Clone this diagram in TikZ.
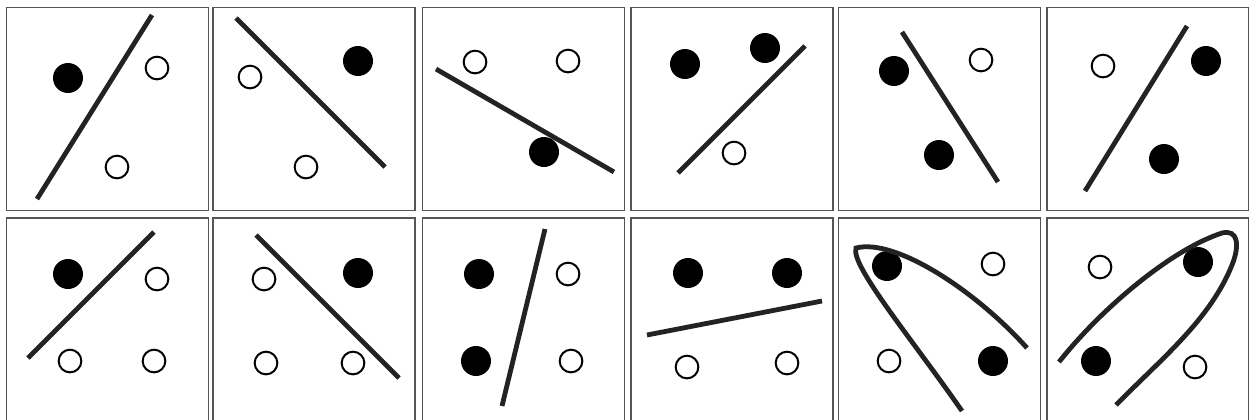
\documentclass[tikz,border=0pt]{standalone}
\usetikzlibrary{positioning}
\definecolor{Ink}{HTML}{232323}
\definecolor{Frame}{HTML}{555555}
\tikzset{
  frame/.style={draw=Frame,line width=1.1pt},
  sep/.style={draw=Ink,line width=3.6pt},
  full/.style={circle,fill=black,minimum size=22.5pt,inner sep=0pt},
  hollow/.style={circle,draw=black,fill=white,line width=1.5pt,minimum size=17pt,inner sep=0pt}
}
\begin{document}
\begin{tikzpicture}[x=0.75pt,y=-0.75pt]
  \useasboundingbox (0,0) rectangle (1249,419);
  % frames
  \foreach \fx in {6.5,213,422.5,631,838.5,1047} {
    \draw[frame] (\fx,7.5) rectangle ++(202,203);
    \draw[frame] (\fx,218) rectangle ++(202,203);
  }
  % row 1
  \draw[sep] (37,199) -- (152,15);
  \node[full] (a1) at (68,78) {};
  \node[hollow] (a2) at (157,68) {};
  \node[hollow] (a3) at (117,167) {};

  \draw[sep] (236,18) -- (385,167);
  \node[full] (b1) at (358,61) {};
  \node[hollow] (b2) at (250,77) {};
  \node[hollow] (b3) at (306,167) {};

  \node[full] (c1) at (544,152) {};
  \draw[sep] (436,69) -- (614,172);
  \node[hollow] (c2) at (475,62) {};
  \node[hollow] (c3) at (568,61) {};

  \draw[sep] (678,173) -- (805,46);
  \node[full] (d1) at (685,64) {};
  \node[full] (d2) at (765,48) {};
  \node[hollow] (d3) at (734,153) {};

  \draw[sep] (902,32) -- (998,182);
  \node[full] (e1) at (894,71) {};
  \node[full] (e2) at (939,155) {};
  \node[hollow] (e3) at (981,60) {};

  \draw[sep] (1085,191) -- (1187,26);
  \node[hollow] (f1) at (1103,66) {};
  \node[full] (f2) at (1206,61) {};
  \node[full] (f3) at (1164,159) {};
  % row 2
  \draw[sep] (28,358) -- (154,232);
  \node[full] (g1) at (68,274) {};
  \node[hollow] (g2) at (157,279) {};
  \node[hollow] (g3) at (70,361) {};
  \node[hollow] (g4) at (154,361) {};

  \node[hollow] (h4) at (353,363) {};
  \draw[sep] (256,235) -- (399,378);
  \node[full] (h1) at (358,273) {};
  \node[hollow] (h2) at (264,279) {};
  \node[hollow] (h3) at (266,363) {};

  \draw[sep] (502,406) -- (545,229);
  \node[full] (i1) at (479,274) {};
  \node[full] (i2) at (476,361) {};
  \node[hollow] (i3) at (568,274) {};
  \node[hollow] (i4) at (571,361) {};

  \draw[sep] (647,335) -- (822,301);
  \node[full] (j1) at (688,273) {};
  \node[full] (j2) at (787,273) {};
  \node[hollow] (j3) at (687,367) {};
  \node[hollow] (j4) at (787,363) {};

  \node[full] (k1) at (887,266) {};
  \node[hollow] (k2) at (993,264) {};
  \node[hollow] (k3) at (889,361) {};
  \node[full] (k4) at (993,361) {};
  \draw[sep] (962,411) .. controls (912,339) and (850,265) .. (856,248)
    .. controls (895,238) and (975,290) .. (1027,348);

  \node[hollow] (l1) at (1100,267) {};
  \node[full] (l2) at (1198,262) {};
  \node[full] (l3) at (1096,361) {};
  \node[hollow] (l4) at (1195,367) {};
  \draw[sep] (1059,362) .. controls (1100,310) and (1170,250) .. (1222,233)
    .. controls (1238,229) and (1240,245) .. (1232,265)
    .. controls (1210,320) and (1160,360) .. (1116,405);
\end{tikzpicture}
\end{document}
